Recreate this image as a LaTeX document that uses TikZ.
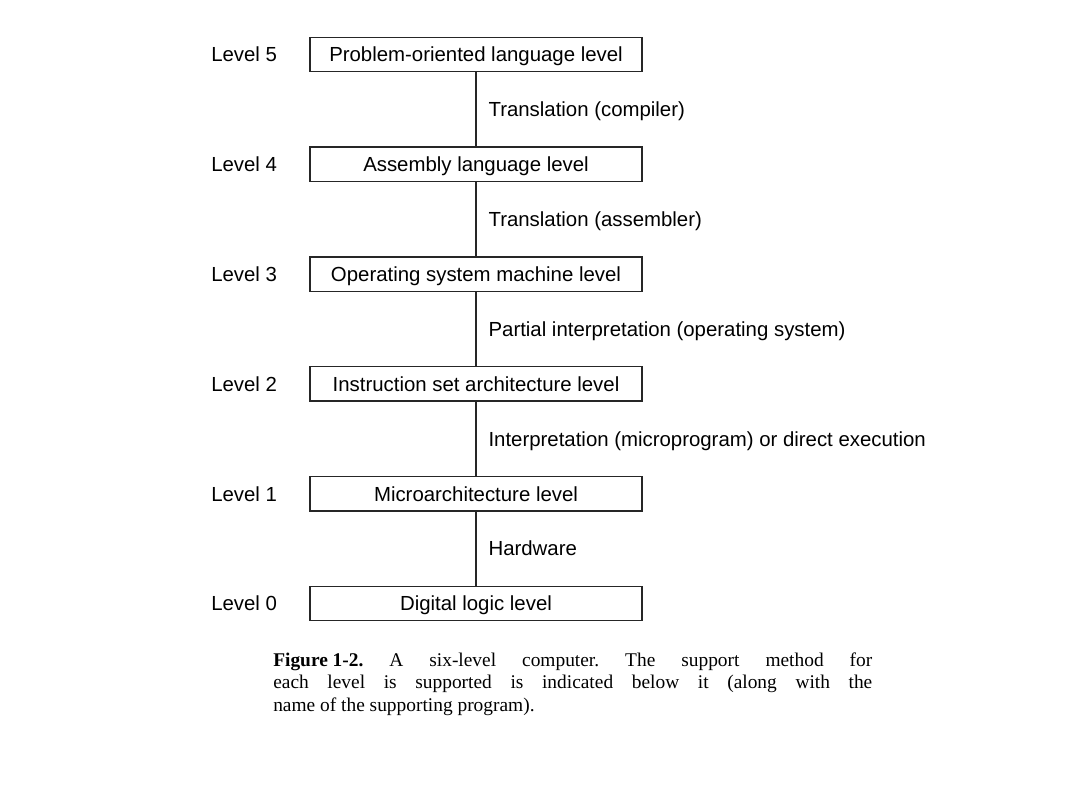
\documentclass[tikz,border=0pt]{standalone}
\usepackage{fontspec}
\setmainfont{Liberation Serif}
\setsansfont{Liberation Sans}
\usepackage{tikz}
\usetikzlibrary{positioning}
\tikzstyle{layer}  = [rectangle, minimum width=8.3cm, minimum height=0.86cm,
    text centered, text height=10.4pt, text depth=0pt, draw=black!85, line width=1pt,
    font=\sffamily\fontsize{14.5}{17}\selectfont]
\tikzstyle{lvltag} = [inner sep=0pt, text height=10.4pt, text depth=0pt,
    font=\sffamily\fontsize{14.5}{17}\selectfont]
\tikzstyle{method} = [right, xshift=0.3cm, inner sep=0pt, text height=10.4pt, text depth=0pt,
    font=\sffamily\fontsize{14.5}{17}\selectfont]
\tikzstyle{link}   = [line width=0.8pt, draw=black!85]

\begin{document}
\begin{tikzpicture}[node distance=1.85cm]
    \useasboundingbox (0,0) rectangle (27,-20.25);

    \node (prob)  [layer] at (11.9,-1.3625)  {Problem-oriented language level};
    \node (asm)   [layer, below=of prob]     {Assembly language level};
    \node (os)    [layer, below=of asm]      {Operating system machine level};
    \node (isa)   [layer, below=of os]       {Instruction set architecture level};
    \node (micro) [layer, below=of isa]      {Microarchitecture level};
    \node (logic) [layer, below=of micro]    {Digital logic level};

    \node (lv5) [lvltag, left=0.8cm of prob]  {Level 5};
    \node (lv4) [lvltag, left=0.8cm of asm]   {Level 4};
    \node (lv3) [lvltag, left=0.8cm of os]    {Level 3};
    \node (lv2) [lvltag, left=0.8cm of isa]   {Level 2};
    \node (lv1) [lvltag, left=0.8cm of micro] {Level 1};
    \node (lv0) [lvltag, left=0.8cm of logic] {Level 0};

    \draw [link] (prob)  -- node[method]{Translation (compiler)} (asm);
    \draw [link] (asm)   -- node[method]{Translation (assembler)} (os);
    \draw [link] (os)    -- node[method]{Partial interpretation (operating system)} (isa);
    \draw [link] (isa)   -- node[method]{Interpretation (microprogram) or direct execution} (micro);
    \draw [link] (micro) -- node[method]{Hardware} (logic);

    \node (caption) [anchor=base west, inner sep=0pt, text width=14.975cm, align=justify,
        font=\fontsize{13.8}{16.3}\selectfont\frenchspacing] at (6.825,-16.65)
        {\mbox{\textbf{Figure 1-2.}} A six-level computer. The support method for\linebreak
         each level is supported is indicated below it (along with the\linebreak
         name of the supporting program).};
\end{tikzpicture}
\end{document}
